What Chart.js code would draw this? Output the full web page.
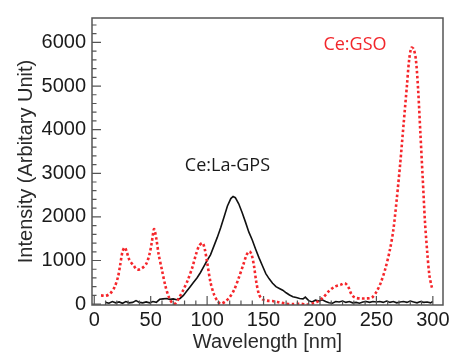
<!DOCTYPE html>
<html>
<head>
<meta charset="utf-8">
<script src="https://cdn.jsdelivr.net/npm/chart.js@4/dist/chart.umd.min.js"></script>
<style>
	html, body { margin: 0; padding: 0; background: #fff; }
	#wrap { width: 453px; height: 356px; }
</style>
</head>
<body>
<div id="wrap"><canvas id="spectrum"></canvas></div>
<script>
// Ce:GSO (red dotted)
const gsoWl = [6, 10, 14, 18, 21, 23, 25, 27, 29, 31, 35, 38, 42, 46, 49, 51, 53, 55, 57, 60, 63, 66, 69, 72, 75, 79, 83, 87, 90, 93, 96, 98, 100, 103, 106, 109, 112, 116, 120, 124, 128, 132, 135, 137.5, 139.5, 141.5, 143.5, 146, 149, 153, 158, 164, 170, 176, 182, 188, 193, 198, 203, 208, 213, 218, 222, 225, 228, 231, 236, 241, 246, 250, 254, 258, 262, 265, 268, 271, 274, 277, 279, 281, 283, 285, 287, 289, 291, 293, 295, 297, 299, 300];
const gsoInt = [200, 190, 240, 390, 620, 900, 1200, 1300, 1180, 1020, 880, 790, 820, 920, 1150, 1420, 1720, 1500, 1150, 780, 420, 170, 30, 15, 140, 330, 560, 850, 1130, 1340, 1400, 1250, 960, 500, 230, 80, 10, 60, 160, 330, 600, 900, 1130, 1210, 1130, 880, 520, 220, 110, 80, 70, 40, 10, 0, 10, -10, 10, 60, 160, 300, 400, 440, 480, 400, 220, 150, 130, 130, 150, 280, 500, 820, 1250, 1700, 2400, 3200, 4100, 5000, 5600, 5880, 5850, 5600, 4900, 3900, 2900, 1900, 1200, 650, 400, 320];

// Ce:La-GPS (black solid)
const gpsWl = [10, 13, 16, 19, 22, 25, 28, 31, 34, 37, 40, 43, 46, 49, 52, 55, 58, 61, 64, 67, 70, 73, 76, 79, 82, 85, 88, 91, 94, 97, 100, 103, 106, 109, 112, 115, 118, 121, 123, 125, 128, 131, 134, 137, 140, 143, 146, 149, 152, 155, 158, 161, 164, 167, 170, 173, 176, 179, 182, 185, 187, 190, 193, 196, 199, 202, 205, 208, 211, 214, 217, 220, 223, 226, 229, 232, 235, 238, 241, 244, 247, 250, 253, 256, 259, 262, 265, 268, 271, 274, 277, 280, 283, 286, 289, 292, 295, 298, 300];
const gpsInt = [40, 20, 60, 30, 50, 20, 60, 30, 40, 80, 40, 30, 50, 30, 60, 40, 110, 120, 130, 110, 120, 100, 130, 200, 300, 400, 500, 600, 720, 860, 1000, 1130, 1330, 1530, 1750, 2000, 2250, 2420, 2470, 2440, 2300, 2100, 1880, 1650, 1470, 1260, 1060, 880, 700, 580, 480, 400, 360, 320, 260, 210, 170, 150, 130, 120, 160, 80, 50, 90, 70, 100, 60, 30, 20, 60, 50, 70, 40, 60, 30, 40, 20, 50, 60, 40, 60, 50, 60, 40, 70, 40, 60, 30, 50, 60, 40, 70, 50, 30, 60, 40, 50, 30, 60];

const xTicks = [0, 50, 100, 150, 200, 250, 300];
const yTicks = [0, 1000, 2000, 3000, 4000, 5000, 6000];

const labelTexts = ['Ce:GSO', 'Ce:La-GPS'];
const labelAt = [[231, 5950], [118, 3170]];
const labelColors = ['#f2262b', '#1a1a1a'];

const toPoints = (xs, ys) => xs.map((x, i) => ({ x: x, y: ys[i] }));

// рамка и внутренние засечки как в ROOT
const frameTicks = {
	id: 'frameTicks',
	afterDraw(chart) {
		const { ctx, chartArea: a, scales } = chart;
		ctx.save();
		ctx.strokeStyle = '#555';
		ctx.lineWidth = 1.5;
		ctx.strokeRect(a.left, a.top, a.right - a.left, a.bottom - a.top);

		ctx.lineWidth = 1.2;
		ctx.beginPath();
		for (let v = 0; v <= 300; v += 10) {
			const px = scales.x.getPixelForValue(v);
			const len = v % 50 === 0 ? 9 : 4.5;
			ctx.moveTo(px, a.bottom);
			ctx.lineTo(px, a.bottom - len);
		}
		for (let v = 0; v <= 6400; v += 200) {
			const py = scales.y.getPixelForValue(v);
			const len = v % 1000 === 0 ? 9 : 4.5;
			ctx.moveTo(a.left, py);
			ctx.lineTo(a.left + len, py);
		}
		ctx.stroke();
		ctx.restore();
	}
};

const curveLabels = {
	id: 'curveLabels',
	afterDatasetsDraw(chart) {
		const { ctx, scales } = chart;
		ctx.save();
		ctx.font = '18px "Open Sans"';
		ctx.textAlign = 'center';
		ctx.textBaseline = 'middle';
		labelTexts.forEach((t, i) => {
			ctx.fillStyle = labelColors[i];
			ctx.fillText(t, scales.x.getPixelForValue(labelAt[i][0]), scales.y.getPixelForValue(labelAt[i][1]));
		});
		ctx.restore();
	}
};

const tickFont = { family: '"Liberation Sans", Arial, sans-serif', size: 20 };

new Chart(document.getElementById('spectrum'), {
	type: 'line',
	data: {
		datasets: [
			{
				label: 'Ce:GSO',
				data: toPoints(gsoWl, gsoInt),
				borderColor: '#f5262b',
				borderWidth: 2.6,
				borderDash: [2.6, 2.4],
				pointRadius: 0,
				tension: 0.3,
				fill: false
			},
			{
				label: 'Ce:La-GPS',
				data: toPoints(gpsWl, gpsInt),
				borderColor: '#111',
				borderWidth: 1.6,
				pointRadius: 0,
				tension: 0,
				fill: false
			}
		]
	},
	options: {
		responsive: true,
		maintainAspectRatio: false,
		animation: false,
		layout: { padding: { top: 12, right: 10, left: 0, bottom: 0 } },
		plugins: {
			legend: { display: false },
			tooltip: { enabled: false }
		},
		scales: {
			x: {
				type: 'linear',
				min: -2,
				max: 309,
				grid: { display: false, drawTicks: false },
				border: { display: false },
				afterFit: (s) => { s.height = 51; },
				afterBuildTicks: (s) => { s.ticks = xTicks.map(v => ({ value: v })); },
				ticks: {
					font: tickFont,
					color: '#1a1a1a',
					padding: 3,
					maxRotation: 0,
					autoSkip: false,
					callback: (v) => String(v)
				},
				title: {
					display: true,
					text: 'Wavelength [nm]',
					font: tickFont,
					color: '#2a2a2a',
					padding: { top: 0, bottom: 2 }
				}
			},
			y: {
				min: -20,
				max: 6560,
				grid: { display: false, drawTicks: false },
				border: { display: false },
				afterFit: (s) => { s.width = 92; },
				afterBuildTicks: (s) => { s.ticks = yTicks.map(v => ({ value: v })); },
				ticks: {
					font: tickFont,
					color: '#1a1a1a',
					padding: 6,
					autoSkip: false,
					callback: (v) => String(v)
				},
				title: {
					display: true,
					text: 'Intensity (Arbitary Unit)',
					font: tickFont,
					color: '#2a2a2a',
					padding: { top: 14, bottom: 0 }
				}
			}
		}
	},
	plugins: [frameTicks, curveLabels]
});
</script>
</body>
</html>
